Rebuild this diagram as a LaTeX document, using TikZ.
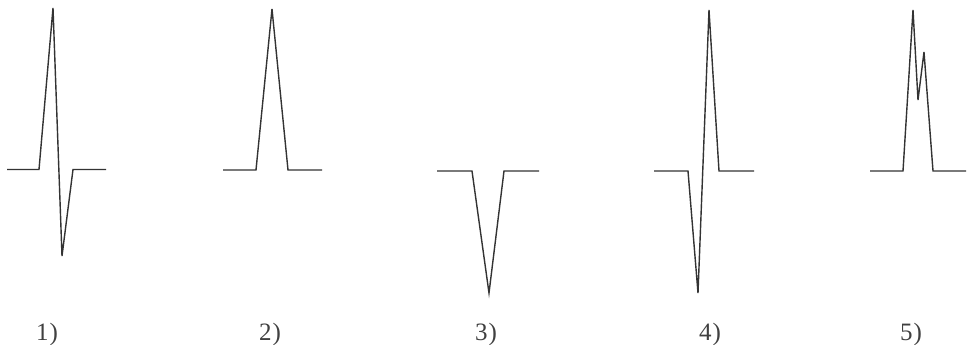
\documentclass[tikz,border=0pt]{standalone}
\usepackage{fontspec}
\setmainfont{Liberation Serif}
\begin{document}
\begin{tikzpicture}[x=1pt,y=-1pt,
  wave/.style={line width=1.4pt,draw=black!80,line join=miter},
  lab/.style={font=\fontsize{25}{25}\selectfont,text=black!75,anchor=base,inner sep=0pt}]
\useasboundingbox (0,0) rectangle (967,345);
% 1
\draw[wave] (7,169.5) -- (39,169.5) -- (53,8) -- (62,256) -- (73,169.5) -- (106,169.5);
% 2
\draw[wave] (223,170) -- (256,170) -- (272,9) -- (288,170) -- (322,170);
% 3
\draw[wave] (437,171) -- (472,171) -- (489,293) -- (504,171) -- (539,171);
% 4
\draw[wave] (654,171) -- (688,171) -- (698,293) -- (709,10) -- (719,171) -- (754,171);
% 5
\draw[wave] (870,171) -- (903,171) -- (913,10) -- (918,100) -- (924,52) -- (933,171) -- (966,171);
% labels
\node[lab] (l1) at (47,340) {1\kern1pt)};
\node[lab] (l2) at (270,340) {2\kern1pt)};
\node[lab] (l3) at (486,340) {3\kern1pt)};
\node[lab] (l4) at (710,340) {4\kern1pt)};
\node[lab] (l5) at (911,340) {5\kern1pt)};
\end{tikzpicture}
\end{document}
